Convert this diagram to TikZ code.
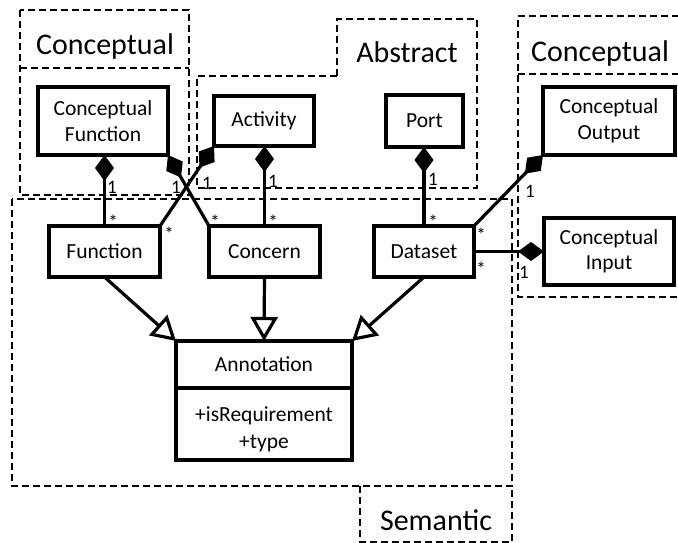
\documentclass[tikz,border=0pt]{standalone}
\usepackage{fontspec}
\setmainfont{Carlito}
\usetikzlibrary{arrows.meta}
\begin{document}
\begin{tikzpicture}[x=1pt,y=-1pt,
  cls/.style={draw, line width=3.5pt, fill=white, inner sep=0pt, outer sep=0pt, align=center,
    font=\fontsize{21.5}{25.5}\selectfont},
  attr/.style={inner sep=0pt, align=center, font=\fontsize{21.5}{27}\selectfont},
  region/.style={draw, line width=1.4pt, dash pattern=on 7pt off 4pt},
  hdr/.style={inner sep=0pt, anchor=base, font=\fontsize{30}{34}\selectfont},
  mult/.style={inner sep=0pt, anchor=base, font=\fontsize{19}{20}\selectfont},
  comp/.style={line width=3.2pt, {Diamond[length=26pt,width=19pt]}-},
  inh/.style={line width=3.2pt, -{Triangle[length=24pt,width=27pt,fill=white]}}
]
\useasboundingbox (0,0) rectangle (678,543);

% regions
\draw[region] (20,10) rectangle (189,195);
\draw[region] (20,68) -- (189,68);
\node[hdr] (hconc1) at (105,55) {Conceptual};

\draw[region] (337,76) |- (477,19) -- (477,188) -| (197,76) -- (337,76);
\node[hdr] (habs) at (407,63) {Abstract};

\draw[region] (690,16) -| (518,297) -- (690,297);
\draw[region] (518,74) -- (690,74);
\node[hdr] (hconc2) at (600,62) {Conceptual};

\draw[region] (12,199) rectangle (512,486);
\draw[region] (360,486) |- (512,542) -- (512,486);
\node[hdr] (hsem) at (436,530) {Semantic};

% classes
\node[cls, minimum width=130, minimum height=68] (cf) at (103,121) {Conceptual\\Function};
\node[cls, minimum width=100, minimum height=50] (act) at (264,121) {Activity};
\node[cls, minimum width=77, minimum height=52] (port) at (424.5,121) {Port};
\node[cls, minimum width=132, minimum height=68] (cout) at (609,121) {Conceptual\\Output};
\node[cls, minimum width=130, minimum height=67] (cin) at (609,251.5) {Conceptual\\Input};
\node[cls, minimum width=111, minimum height=51] (func) at (104.5,251.5) {Function};
\node[cls, minimum width=111, minimum height=51] (conc) at (264.5,251.5) {Concern};
\node[cls, minimum width=100, minimum height=51] (data) at (424,251.5) {Dataset};
\node[cls, minimum width=176, minimum height=47] (annh) at (264,364.5) {Annotation};
\node[cls, minimum width=176, minimum height=72] (annb) at (264,424) {};
\node[attr] (attrs) at (264,429) {+isRequirement\\+type};

% compositions
\draw[comp] (func.north |- cf.south) -- (func.north);
\draw[comp] (cf.south east) -- (conc.north west);
\draw[comp] (act.south west) -- (func.north east);
\draw[comp] (conc.north |- act.south) -- (conc.north);
\draw[comp] (data.north |- port.south) -- (data.north);
\draw[comp] (cout.south west) -- (data.north east);
\draw[comp] (cin.west) -- (data.east);

% generalizations
\draw[inh] (func.south) -- (annh.north west);
\draw[inh] (conc.south) -- (annh.north);
\draw[inh] (data.south) -- (annh.north east);

% multiplicities
\node[mult] (m1a) at (112,193) {1};
\node[mult] (m1b) at (113,228) {*};
\node[mult] (m2a) at (176,193) {1};
\node[mult] (m2b) at (215,228) {*};
\node[mult] (m3a) at (207,189) {1};
\node[mult] (m3b) at (169,240) {*};
\node[mult] (m4a) at (273,187) {1};
\node[mult] (m4b) at (273,228) {*};
\node[mult] (m5a) at (433,185) {1};
\node[mult] (m5b) at (433,228) {*};
\node[mult] (m6a) at (530,197) {1};
\node[mult] (m6b) at (481,241) {*};
\node[mult] (m7a) at (524,278) {1};
\node[mult] (m7b) at (481,275) {*};
\end{tikzpicture}
\end{document}
